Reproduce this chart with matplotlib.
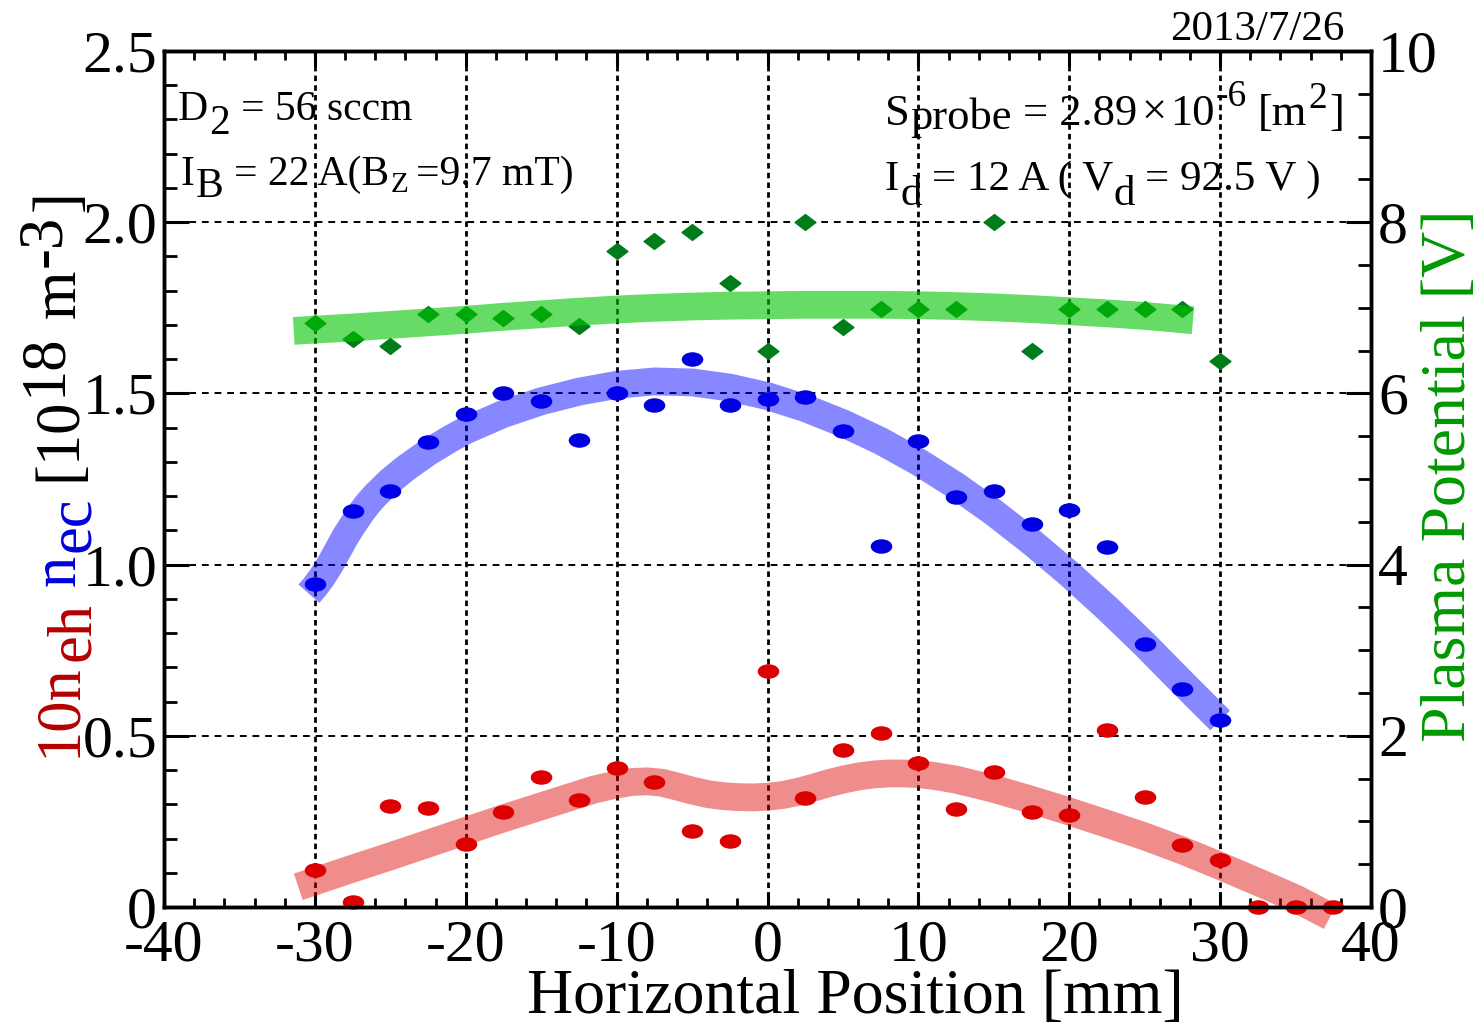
"""Probe profile: electron densities and plasma potential vs horizontal position."""
import matplotlib

matplotlib.use("Agg")

import matplotlib.pyplot as plt
from matplotlib.path import Path
from matplotlib.ticker import FixedLocator, MultipleLocator

W, H, DPI = 1478, 1026, 100
RED = "#dd0000"
BLUE = "#0000dd"
GREEN = "#007d1a"
LABEL_RED = "#b40000"
LABEL_GREEN = "#009900"

# ---- data ----
pos_red = [-30, -27.5, -25, -22.5, -20, -17.5, -15, -12.5, -10, -7.5, -5, -2.5, 0,
           2.5, 5, 7.5, 10, 12.5, 15, 17.5, 20, 22.5, 25, 27.5, 30, 32.5, 35, 37.5]
n_eh_x10 = [0.108, 0.014, 0.295, 0.290, 0.184, 0.276, 0.380, 0.312, 0.407, 0.364,
            0.222, 0.193, 0.690, 0.317, 0.458, 0.508, 0.421, 0.285, 0.394, 0.278,
            0.270, 0.516, 0.322, 0.181, 0.137, 0.0, 0.0, 0.0]

pos = [-30, -27.5, -25, -22.5, -20, -17.5, -15, -12.5, -10, -7.5, -5, -2.5, 0,
       2.5, 5, 7.5, 10, 12.5, 15, 17.5, 20, 22.5, 25, 27.5, 30]
n_ec = [0.944, 1.156, 1.216, 1.359, 1.439, 1.500, 1.478, 1.365, 1.500, 1.467,
        1.600, 1.467, 1.483, 1.490, 1.391, 1.055, 1.360, 1.198, 1.216, 1.120,
        1.159, 1.052, 0.769, 0.638, 0.547]
v_plasma = [6.82, 6.63, 6.55, 6.93, 6.93, 6.88, 6.93, 6.79, 7.66, 7.78,
            7.88, 7.29, 6.49, 8.00, 6.78, 6.99, 6.99, 6.99, 8.00, 6.49,
            6.99, 6.99, 6.99, 6.99, 6.38]

# hand-drawn trend bands (centre lines)
band_red_x = [-31.1, -30, -27.5, -25, -22.5, -20, -17.5, -15, -13, -11.5, -10, -9,
              -8, -7, -6, -5, -4, -3, -2, -1, 0, 1, 2, 3, 4, 5, 6, 7, 8, 9, 10,
              11, 12.5, 15, 17.5, 20, 22.5, 25, 27.5, 30, 32.5, 35, 37.3]
band_red_y = [0.059, 0.075, 0.112, 0.148, 0.185, 0.222, 0.259, 0.294, 0.322, 0.343,
              0.358, 0.365, 0.367, 0.363, 0.352, 0.340, 0.330, 0.324, 0.321, 0.320,
              0.322, 0.327, 0.336, 0.348, 0.361, 0.372, 0.381, 0.387, 0.390, 0.390,
              0.388, 0.383, 0.372, 0.345, 0.313, 0.279, 0.243, 0.206, 0.165, 0.120,
              0.073, 0.025, -0.028]
band_blue_x = [-30.4, -30, -29.5, -29, -28.5, -28, -27.5, -27, -26.5, -26, -25, -24,
               -22.5, -21, -20, -17.5, -15, -12.5, -10, -7.5, -5, -2.5, 0, 2.5, 5,
               7.5, 10, 12.5, 15, 17.5, 20, 22.5, 25, 27.5, 30.0]
band_blue_y = [0.915, 0.935, 0.965, 1.000, 1.040, 1.080, 1.115, 1.148, 1.177, 1.202,
               1.245, 1.281, 1.328, 1.368, 1.392, 1.440, 1.477, 1.505, 1.525, 1.535,
               1.532, 1.517, 1.492, 1.457, 1.413, 1.361, 1.300, 1.230, 1.152, 1.066,
               0.973, 0.873, 0.767, 0.655, 0.545]
band_green_x = [-31.4, -30, -27.5, -25, -22.5, -20, -17.5, -15, -12.5, -10, -7.5, -5,
                -2.5, 0, 2.5, 5, 7.5, 10, 12.5, 15, 17.5, 20, 22.5, 25, 28.2]
band_green_y = [6.73, 6.745, 6.77, 6.80, 6.83, 6.86, 6.895, 6.925, 6.955, 6.98, 7.0,
                7.015, 7.025, 7.03, 7.035, 7.035, 7.035, 7.03, 7.02, 7.005, 6.985,
                6.96, 6.935, 6.905, 6.855]

x_ticks = [-40, -30, -20, -10, 0, 10, 20, 30, 40]
x_ticklabels = ["-40", "-30", "-20", "-10", "0", "10", "20", "30", "40"]
y_ticks = [0, 0.5, 1.0, 1.5, 2.0, 2.5]
y_ticklabels = ["0", "0.5", "1.0", "1.5", "2.0", "2.5"]
y2_ticks = [0, 2, 4, 6, 8, 10]
y2_ticklabels = ["0", "2", "4", "6", "8", "10"]

plt.rcParams["font.family"] = ["Liberation Serif", "DejaVu Serif"]
plt.rcParams["axes.unicode_minus"] = False

# ellipse / flattened diamond markers as in the original
ELLIPSE = Path.unit_circle().transformed(matplotlib.transforms.Affine2D().scale(1, 0.65))
DIAMOND = Path([(0, 1), (1, 0), (0, -1), (-1, 0), (0, 1)], closed=True).transformed(
    matplotlib.transforms.Affine2D().scale(1, 0.76))

fig = plt.figure(figsize=(W / DPI, H / DPI), dpi=DPI)
ax = fig.add_axes([164 / W, (H - 907) / H, (1371 - 164) / W, (907 - 51) / H])
ax2 = ax.twinx()

ax.set_xlim(-40, 40)
ax.set_ylim(0, 2.5)
ax2.set_ylim(0, 10)

# grid
ax.set_axisbelow(True)
ax.grid(True, axis="x", which="major", color="k", lw=2.0, ls=(0, (2, 1.5)))
ax.grid(True, axis="y", which="major", color="k", lw=1.4, ls=(0, (3.5, 3)))

# points
ax.plot(pos_red, n_eh_x10, ls="none", marker=ELLIPSE, ms=14.5, color=RED,
        mec=RED, clip_on=False, zorder=3)
ax.plot(pos, n_ec, ls="none", marker=ELLIPSE, ms=14.5, color=BLUE, mec=BLUE,
        clip_on=False, zorder=3)
ax2.plot(pos, v_plasma, ls="none", marker=DIAMOND, ms=15, color=GREEN, mec=GREEN,
         clip_on=False, zorder=3)

# trend bands on top of the points
ax.plot(band_red_x, band_red_y, color=RED, alpha=0.45, lw=20,
        solid_capstyle="butt", solid_joinstyle="round", clip_on=False, zorder=4)
ax.plot(band_blue_x, band_blue_y, color="#0000ff", alpha=0.47, lw=20,
        solid_capstyle="butt", solid_joinstyle="round", zorder=4)
ax2.plot(band_green_x, band_green_y, color="#00c600", alpha=0.6, lw=20,
         solid_capstyle="butt", solid_joinstyle="round", zorder=4)

# ticks
ax.xaxis.set_major_locator(FixedLocator(x_ticks))
ax.set_xticklabels(x_ticklabels)
ax.xaxis.set_minor_locator(MultipleLocator(2))
ax.yaxis.set_major_locator(FixedLocator(y_ticks))
ax.set_yticklabels(y_ticklabels)
ax.yaxis.set_minor_locator(MultipleLocator(0.1))
ax2.yaxis.set_major_locator(FixedLocator(y2_ticks))
ax2.set_yticklabels(y2_ticklabels)
ax2.yaxis.set_minor_locator(MultipleLocator(0.5))

ax.tick_params(axis="x", which="major", direction="in", length=11, width=2.2,
               top=True, pad=9, labelsize=43)
ax.tick_params(axis="x", which="minor", direction="in", length=6.5, width=2, top=True)
ax.tick_params(axis="y", which="major", direction="in", length=18, width=2.2,
               right=False, pad=5, labelsize=43)
ax.tick_params(axis="y", which="minor", direction="in", length=9.5, width=2, right=False)
ax2.tick_params(axis="y", which="major", direction="in", length=18, width=2.2,
                left=False, pad=5, labelsize=43)
ax2.tick_params(axis="y", which="minor", direction="in", length=9.5, width=2, left=False)

for a in (ax, ax2):
    for sp in a.spines.values():
        sp.set_linewidth(2.5)


def rich(x0, y0, parts, rot=0):
    """Draw text pieces one after another; x0, y0 in picture pixels (top-left origin).

    parts: (text, size, rise_px, color, gap_em_before)
    """
    r = fig.canvas.get_renderer()
    adv = 0.0
    for s, size, rise, color, gap in parts:
        adv += gap * size * DPI / 72
        if rot == 0:
            x, y = x0 + adv, H - y0 + rise
        else:
            x, y = x0 - rise, H - y0 + adv
        t = fig.text(x / W, y / H, s, fontsize=size, color=color, rotation=rot,
                     rotation_mode="anchor", ha="left", va="baseline")
        bb = t.get_window_extent(r)
        adv += bb.width if rot == 0 else bb.height


# axis titles
fig.text(855 / W, (H - 1013) / H, "Horizontal Position [mm]", fontsize=46,
         ha="center", va="baseline")
fig.text(1465 / W, (H - 476) / H, "Plasma Potential [V]", fontsize=46,
         color=LABEL_GREEN, rotation=90, rotation_mode="anchor",
         ha="center", va="baseline")
rich(75, 757, [
    ("10n", 45, 0, LABEL_RED, 0),
    ("eh", 45, -14, LABEL_RED, 0.04),
    ("n", 45, 0, BLUE, 0.25),
    ("ec", 45, -14, BLUE, 0.04),
    ("[10", 45, 0, "k", 0.25),
    ("18", 45, 15, "k", 0.03),
    ("m", 45, 0, "k", 0.25),
    ("-3", 45, 15, "k", 0.04),
    ("]", 45, 0, "k", 0.06),
], rot=90)

# run conditions
rich(178, 120, [
    ("D", 30, 0, "k", 0),
    ("2", 30, -14, "k", 0.03),
    ("= 56 sccm", 30, 0, "k", 0.25),
])
rich(181, 185, [
    ("I", 30, 0, "k", 0),
    ("B", 30, -12, "k", 0.03),
    ("= 22 A(B", 30, 0, "k", 0.25),
    ("Z", 21, -7, "k", 0.03),
    ("=9.7 mT)", 30, 0, "k", 0.2),
])
rich(885, 125, [
    ("S", 32, 0, "k", 0),
    ("probe", 32, -4, "k", 0.02),
    ("= 2.89", 32, 0, "k", 0.25),
    ("\u00d7", 32, 0, "k", 0.08),
    ("10", 32, 0, "k", 0.08),
    ("-6", 27, 19, "k", 0.04),
    ("[m", 32, 0, "k", 0.25),
    ("2", 27, 17, "k", 0.03),
    ("]", 32, 0, "k", 0.04),
])
rich(885, 190, [
    ("I", 31, 0, "k", 0),
    ("d", 31, -15, "k", 0.03),
    ("= 12 A ( V", 31, 0, "k", 0.22),
    ("d", 31, -15, "k", 0.02),
    ("= 92.5 V )", 31, 0, "k", 0.22),
])
fig.text(1344 / W, (H - 40) / H, "2013/7/26", fontsize=31, ha="right", va="baseline")

fig.savefig("out.png", dpi=DPI, facecolor="white")
